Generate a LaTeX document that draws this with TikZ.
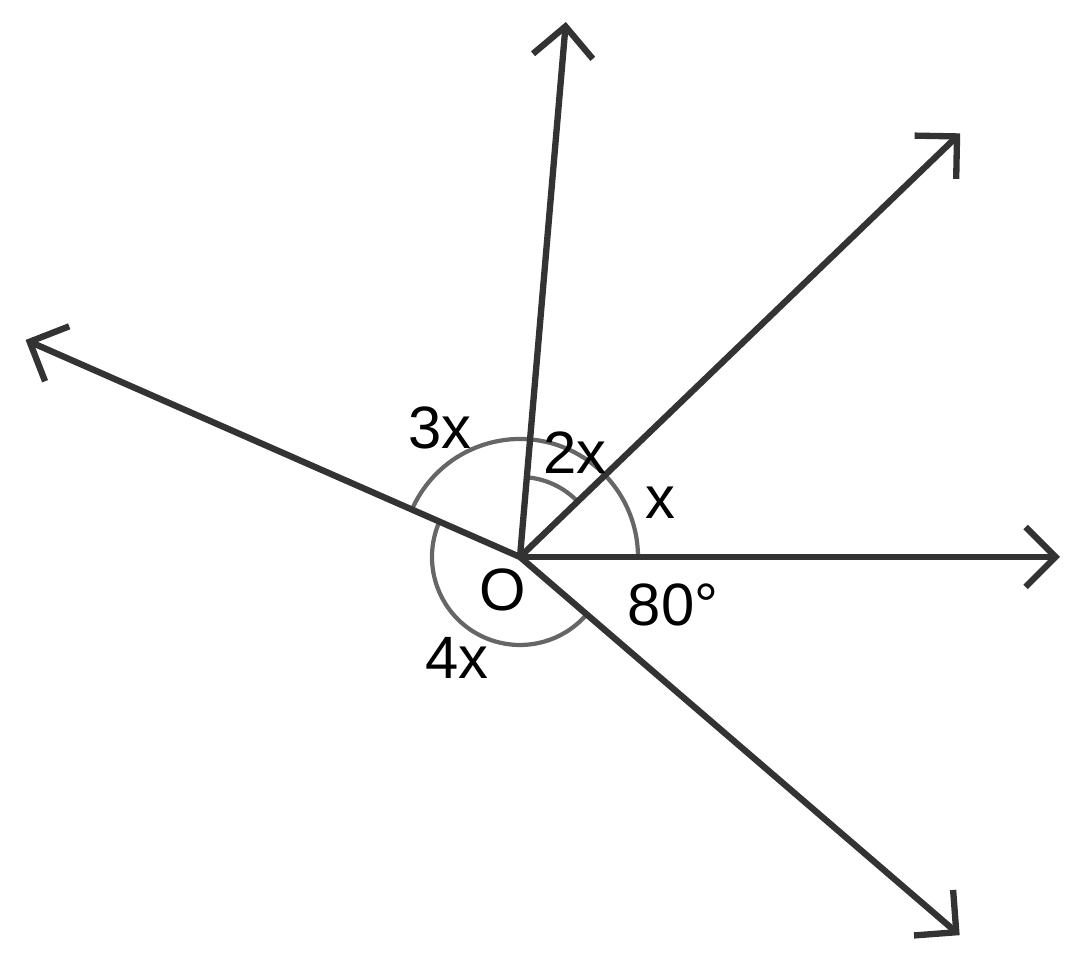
\documentclass[tikz,border=0pt]{standalone}
\usepackage{fontspec}
\setmainfont{Liberation Sans}
\usetikzlibrary{arrows.meta,calc}
\tikzset{
    ray/.style={draw=black!80, line width=1.8pt, -{Straight Barb[length=3mm,width=6mm,line width=1.8pt]}},
    anglearc/.style={draw=black!60, line width=1.2pt},
    lbl/.style={font=\fontsize{17}{20}\selectfont, inner sep=0pt}
}

\begin{document}
\begin{tikzpicture}
    \useasboundingbox (0,0) rectangle (10.84,9.73);
    \coordinate (O) at (5.20,4.16);
    \coordinate (up) at ($(O)+(85.1:5.37)$);
    \coordinate (ur) at ($(O)+(43.9:6.11)$);
    \coordinate (rt) at ($(O)+(0:5.40)$);
    \coordinate (dr) at ($(O)+(-40.7:5.80)$);
    \coordinate (lt) at ($(O)+(156.3:5.40)$);

    % angle arcs
    \draw[anglearc] ($(O)+(156.3:1.18)$) arc[start angle=156.3, end angle=0, radius=1.18];
    \draw[anglearc] ($(O)+(85.1:0.80)$) arc[start angle=85.1, end angle=43.9, radius=0.80];
    \draw[anglearc] ($(O)+(156.3:0.88)$) arc[start angle=156.3, end angle=319.3, radius=0.88];

    \draw[ray] (O) -- (up);
    \draw[ray] (O) -- (ur);
    \draw[ray] (O) -- (rt);
    \draw[ray] (O) -- (dr);
    \draw[ray] (O) -- (lt);

    \node (l3x) [lbl] at (4.40,5.45) {3x};
    \node (l2x) [lbl] at (5.75,5.20) {2x};
    \node (lx) [lbl] at (6.60,4.70) {x};
    \node (lO) [lbl] at (5.03,3.83) {O};
    \node (l80) [lbl] at (6.73,3.68) {80°};
    \node (l4x) [lbl] at (4.57,3.15) {4x};
\end{tikzpicture}
\end{document}
